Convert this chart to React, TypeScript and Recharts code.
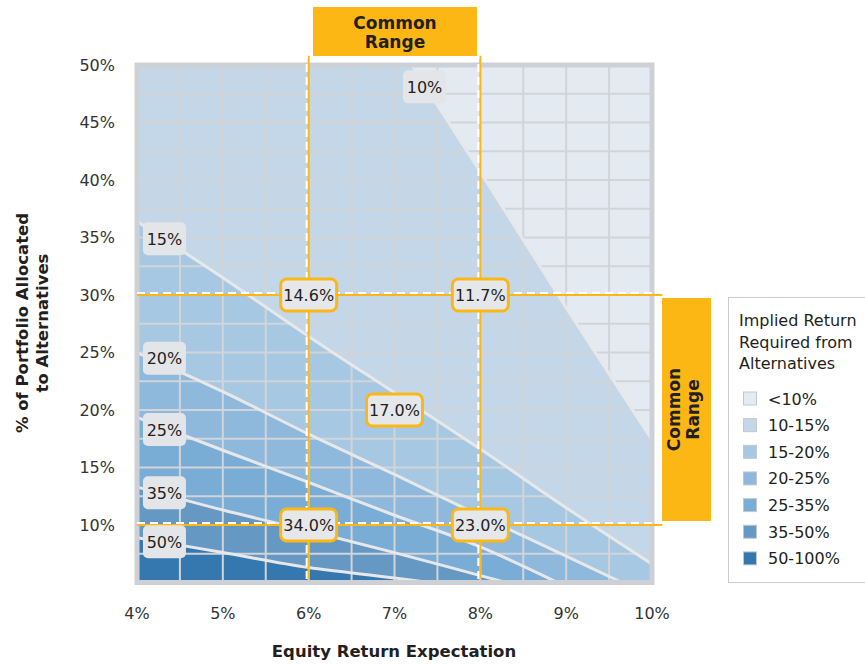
import {
  ComposedChart,
  Area,
  Line,
  Scatter,
  XAxis,
  YAxis,
  CartesianGrid,
  ReferenceArea,
  ReferenceLine,
  Legend,
} from "recharts";

// axis ticks and grid
const xTicks = [4, 5, 6, 7, 8, 9, 10];
const yTicks = [10, 15, 20, 25, 30, 35, 40, 45, 50];
const gridX = [4, 4.5, 5, 5.5, 6, 6.5, 7, 7.5, 8, 8.5, 9, 9.5, 10];
const gridY = [5, 7.5, 10, 12.5, 15, 17.5, 20, 22.5, 25, 27.5, 30, 32.5, 35, 37.5, 40, 42.5, 45, 47.5, 50];

// contour lines: x = equity return, y = % allocated to alternatives
const line10 = [
  { x: 7.2, y: 50 },
  { x: 8, y: 40.7 },
  { x: 9, y: 28.9 },
  { x: 10, y: 17.4 },
];
const line15 = [
  { x: 4, y: 36.4 },
  { x: 5, y: 31.5 },
  { x: 6, y: 26.4 },
  { x: 7, y: 21.5 },
  { x: 8, y: 16.6 },
  { x: 9, y: 11.5 },
  { x: 10, y: 6.6 },
];
const line20 = [
  { x: 4, y: 25.0 },
  { x: 5, y: 21.6 },
  { x: 6, y: 17.9 },
  { x: 7, y: 14.4 },
  { x: 8, y: 10.8 },
  { x: 9, y: 7.3 },
  { x: 9.65, y: 5 },
];
const line25 = [
  { x: 4, y: 19.35 },
  { x: 5, y: 16.5 },
  { x: 6, y: 13.7 },
  { x: 7, y: 10.85 },
  { x: 8, y: 8.1 },
  { x: 8.9, y: 5 },
];
const line35 = [
  { x: 4, y: 13.3 },
  { x: 5, y: 11.3 },
  { x: 6, y: 9.5 },
  { x: 7, y: 7.6 },
  { x: 8, y: 5.6 },
  { x: 8.3, y: 5 },
];
const line50 = [
  { x: 4, y: 8.9 },
  { x: 5, y: 7.6 },
  { x: 6, y: 6.3 },
  { x: 7, y: 5.4 },
  { x: 7.4, y: 5 },
];

const contourLines = [line10, line15, line20, line25, line35, line50];

// legend bands, lightest first
const bands = ["<10%", "10-15%", "15-20%", "20-25%", "25-35%", "35-50%", "50-100%"];
const bandColors = ["#e3eaf1", "#c3d7e8", "#a7c8e2", "#8fb9dc", "#7aadd6", "#6698c4", "#3478af"];

// tags on the contour lines
const contourTags = [
  { x: 7.35, y: 48.1, label: "10%" },
  { x: 4.32, y: 34.9, label: "15%" },
  { x: 4.32, y: 24.5, label: "20%" },
  { x: 4.32, y: 18.3, label: "25%" },
  { x: 4.32, y: 12.8, label: "35%" },
  { x: 4.32, y: 8.55, label: "50%" },
];

// common range
const rangeX = [6, 8];
const rangeY = [10, 30];
const checkpoints = [
  { x: 6, y: 30, label: "14.6%" },
  { x: 8, y: 30, label: "11.7%" },
  { x: 7, y: 20, label: "17.0%" },
  { x: 6, y: 10, label: "34.0%" },
  { x: 8, y: 10, label: "23.0%" },
];

const ORANGE = "#fcb714";
const INK = "#231f20";
const FONT = "'DejaVu Sans', Verdana, sans-serif";

// pad regions that start to the right of the left edge with the top-left corner
const areaData = (pts: { x: number; y: number }[]) =>
  pts[0].x > 4 ? [{ x: 4, y: pts[0].y }, ...pts] : pts;

const RangeLine = (props: any) => {
  const { x1, y1, x2, y2 } = props;
  const vertical = Math.abs(x1 - x2) < 0.5;
  const dx = vertical ? -2 : 0;
  const dy = vertical ? 0 : -2;
  return (
    <g>
      <line x1={x1} y1={y1} x2={x2} y2={y2} stroke={ORANGE} strokeWidth={2} />
      <line
        x1={x1 + dx}
        y1={y1 + dy}
        x2={x2 + dx}
        y2={y2 + dy}
        stroke="#ffffff"
        strokeWidth={2}
        strokeDasharray="8 5"
      />
    </g>
  );
};

const CheckTag = (props: any) => {
  const { cx, cy, payload } = props;
  return (
    <g>
      <rect x={cx - 28} y={cy - 16} width={56} height={32} rx={6} fill="#e6e7eb" stroke={ORANGE} strokeWidth={3} />
      <text x={cx} y={cy + 6} textAnchor="middle" fontSize={16} fill={INK} fontFamily={FONT}>
        {payload.label}
      </text>
    </g>
  );
};

const ContourTag = (props: any) => {
  const { cx, cy, payload } = props;
  return (
    <g>
      <rect x={cx - 21.5} y={cy - 16.5} width={43} height={33} rx={5} fill="#e4e5e9" />
      <text x={cx} y={cy + 6} textAnchor="middle" fontSize={16} fill={INK} fontFamily={FONT}>
        {payload.label}
      </text>
    </g>
  );
};

function LegendBox() {
  return (
    <svg width={150} height={286} style={{ display: "block" }}>
      <rect x={0.5} y={0.5} width={160} height={285} fill="#fff" stroke="#c9ccd0" />
      <text fontSize={16} fill={INK} fontFamily={FONT}>
        <tspan x={11} y={29}>Implied Return</tspan>
        <tspan x={11} y={50.5}>Required from</tspan>
        <tspan x={11} y={72}>Alternatives</tspan>
      </text>
      {bands.map((b, i) => {
        const cy = 101.5 + i * 26.65;
        return (
          <g key={b}>
            <rect x={15.5} y={cy - 6.5} width={13} height={13} fill={bandColors[i]} stroke="#c3c8ce" />
            <text x={40} y={cy + 6} fontSize={16} fill={INK} fontFamily={FONT}>
              {b}
            </text>
          </g>
        );
      })}
    </svg>
  );
}

export default function App() {
  return (
    <div
      style={{
        position: "absolute",
        left: 0,
        top: 0,
        width: 865,
        height: 665,
        overflow: "hidden",
        background: "#fff",
        fontFamily: FONT,
      }}
    >
      <ComposedChart
        width={865}
        height={665}
        margin={{ top: 65, right: 213, bottom: 52.5, left: 77 }}
        style={{ fontFamily: FONT }}
      >
        <XAxis
          type="number"
          dataKey="x"
          domain={[4, 10]}
          ticks={xTicks}
          allowDataOverflow
          axisLine={false}
          tickLine={false}
          tickSize={0}
          tickMargin={25}
          height={30}
          tick={{ fill: "#333", fontSize: 16 }}
          tickFormatter={(v) => `${v}%`}
        />
        <YAxis
          type="number"
          domain={[5, 50]}
          ticks={yTicks}
          allowDataOverflow
          axisLine={false}
          tickLine={false}
          tickSize={0}
          tickMargin={22}
          width={60}
          tick={{ fill: "#333", fontSize: 16 }}
          tickFormatter={(v) => `${v}%`}
        />

        <ReferenceArea x1={4} x2={10} y1={5} y2={50} fill={bandColors[0]} fillOpacity={1} stroke="none" zIndex={-200} />

        {contourLines.map((pts, i) => (
          <Area
            key={`band-${i}`}
            data={areaData(pts)}
            dataKey="y"
            type={i === 0 ? "linear" : "monotone"}
            baseValue={5}
            fill={bandColors[i + 1]}
            fillOpacity={1}
            stroke="none"
            dot={false}
            activeDot={false}
            isAnimationActive={false}
            zIndex={101 + i}
          />
        ))}

        <CartesianGrid
          verticalValues={gridX}
          horizontalValues={gridY}
          stroke="#d1d4d8"
          strokeWidth={2}
          zIndex={150}
        />

        {contourLines.map((pts, i) => (
          <Line
            key={`line-${i}`}
            data={pts}
            dataKey="y"
            type={i === 0 ? "linear" : "monotone"}
            stroke="#e7e8ea"
            strokeWidth={3}
            dot={false}
            activeDot={false}
            isAnimationActive={false}
            zIndex={400}
          />
        ))}

        <ReferenceArea
          x1={4}
          x2={10}
          y1={5}
          y2={50}
          fill="none"
          stroke="#cdd1d5"
          strokeWidth={5}
          ifOverflow="visible"
          zIndex={450}
        />

        {rangeX.map((v) => (
          <ReferenceLine
            key={`vx-${v}`}
            segment={[
              { x: v, y: 5.3 },
              { x: v, y: 50.8 },
            ]}
            ifOverflow="visible"
            shape={RangeLine}
            zIndex={500}
          />
        ))}
        {rangeY.map((v) => (
          <ReferenceLine
            key={`hy-${v}`}
            segment={[
              { x: 4, y: v },
              { x: 10.12, y: v },
            ]}
            ifOverflow="visible"
            shape={RangeLine}
            zIndex={500}
          />
        ))}

        <Scatter data={contourTags} dataKey="y" shape={ContourTag} isAnimationActive={false} zIndex={700} />
        <Scatter data={checkpoints} dataKey="y" shape={CheckTag} isAnimationActive={false} zIndex={800} />

        <Legend
          layout="vertical"
          align="center"
          verticalAlign="middle"
          wrapperStyle={{ position: "absolute", left: 728, top: 297, width: 150, height: 286 }}
          content={() => <LegendBox />}
        />
      </ComposedChart>

      <svg
        width={865}
        height={665}
        style={{ position: "absolute", left: 0, top: 0, pointerEvents: "none" }}
      >
        <rect x={313} y={7} width={164} height={49} fill={ORANGE} />
        <text textAnchor="middle" fontSize={17} fontWeight="bold" fill={INK} fontFamily={FONT}>
          <tspan x={395} y={28.5}>Common</tspan>
          <tspan x={395} y={48}>Range</tspan>
        </text>

        <rect x={662} y={298} width={49} height={223} fill={ORANGE} />
        <g transform="translate(686,409.5) rotate(-90)">
          <text textAnchor="middle" fontSize={17} fontWeight="bold" fill={INK} fontFamily={FONT}>
            <tspan x={0} y={-5.6}>Common</tspan>
            <tspan x={0} y={13.4}>Range</tspan>
          </text>
        </g>

        <text x={394} y={657} textAnchor="middle" fontSize={16.5} fontWeight="bold" fill={INK} fontFamily={FONT}>
          Equity Return Expectation
        </text>
        <g transform="translate(30.5,323) rotate(-90)">
          <text textAnchor="middle" fontSize={16.5} fontWeight="bold" fill={INK} fontFamily={FONT}>
            <tspan x={0} y={-2.5}>% of Portfolio Allocated</tspan>
            <tspan x={0} y={17.5}>to Alternatives</tspan>
          </text>
        </g>
      </svg>
    </div>
  );
}
